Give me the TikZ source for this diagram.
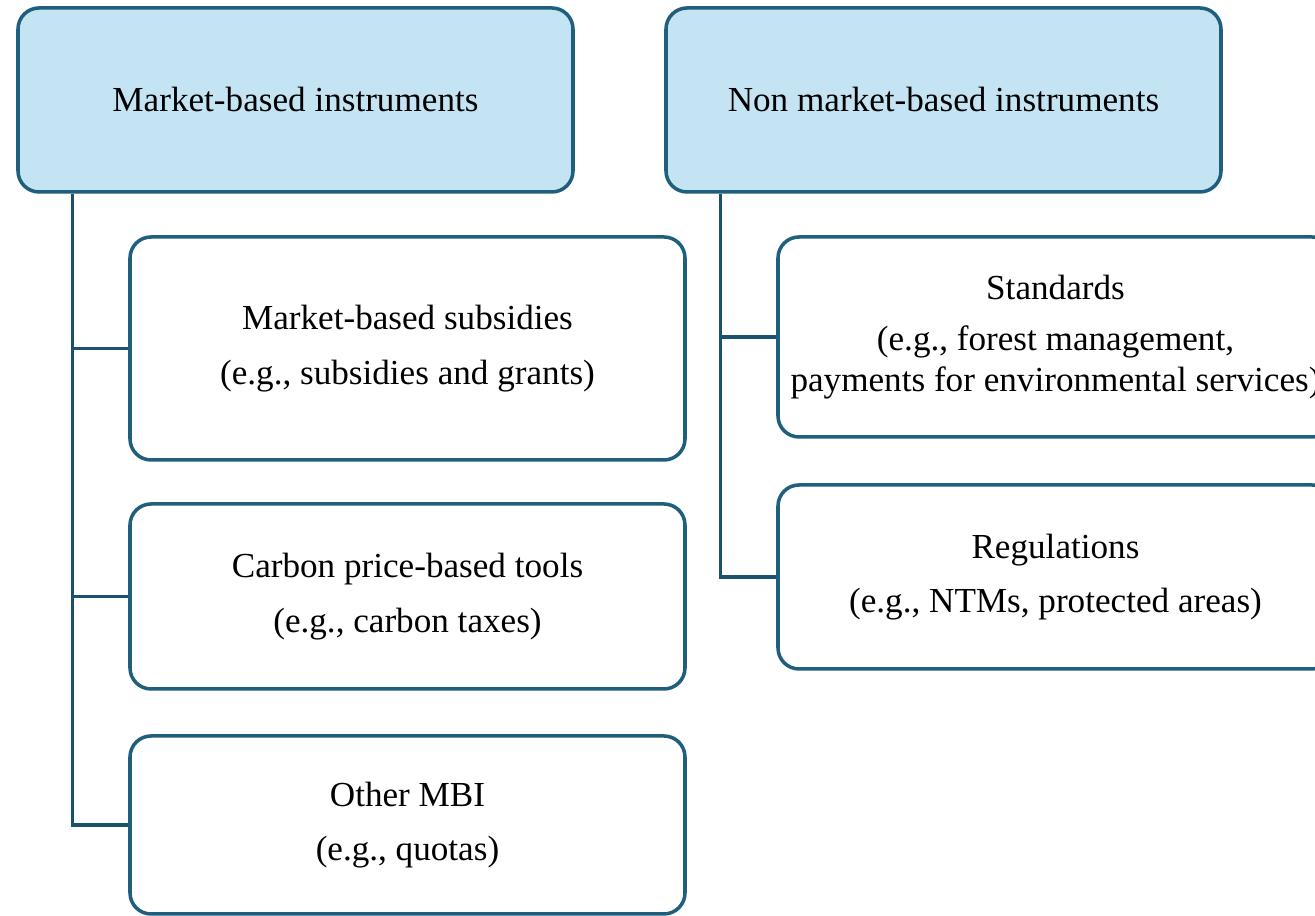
\documentclass[tikz,border=0pt]{standalone}
\usepackage{fontspec}
\setmainfont{Liberation Serif}
\usepackage{xcolor}
\usepackage{tikz}
\usetikzlibrary{calc,positioning}
\definecolor{instBlue}{RGB}{197,228,243}
\definecolor{instEdge}{RGB}{31,94,125}
\definecolor{instLine}{RGB}{24,82,110}

\begin{document}
\begin{tikzpicture}[
  box/.style={draw=instEdge, line width=1pt, rounded corners=6pt, align=center,
    minimum width=5.55cm, inner sep=0pt, font=\fontsize{10}{11.5}\selectfont},
  headbox/.style={box, fill=instBlue, minimum height=1.84cm},
  link/.style={draw=instLine, line width=0.9pt}
]
\useasboundingbox (0,0) rectangle (13.15,9.16);
\clip (0,0) rectangle (13.15,9.16);

\node[headbox] (mbi) at (2.955,8.16) {Market-based instruments};
\node[headbox] (nmbi) at (9.435,8.16) {Non market-based instruments};

\node[box, minimum height=2.23cm] (subsidies) at (4.075,5.675)
  {Market-based subsidies\\[4pt] (e.g., subsidies and grants)};
\node[box, minimum height=1.85cm] (carbon) at (4.075,3.195)
  {Carbon price-based tools\\[4pt] (e.g., carbon taxes)};
\node[box, minimum height=1.78cm] (other) at (4.075,0.91)
  {Other MBI\\[4pt] (e.g., quotas)};

\node[box, minimum height=2.00cm] (standards) at (10.555,5.79)
  {Standards\\[3pt] (e.g., forest management,\\ payments for environmental services)};
\node[box, minimum height=1.84cm] (regs) at (10.555,3.39)
  {Regulations\\[4pt] (e.g., NTMs, protected areas)};

\coordinate (mbiroot) at ([xshift=0.56cm]mbi.south west);
\coordinate (nmbiroot) at ([xshift=0.56cm]nmbi.south west);

\draw[link] (mbiroot) |- (other.west);
\draw[link] (mbiroot) |- (subsidies.west);
\draw[link] (mbiroot) |- (carbon.west);
\draw[link] (nmbiroot) |- (regs.west);
\draw[link] (nmbiroot) |- (standards.west);
\end{tikzpicture}
\end{document}
